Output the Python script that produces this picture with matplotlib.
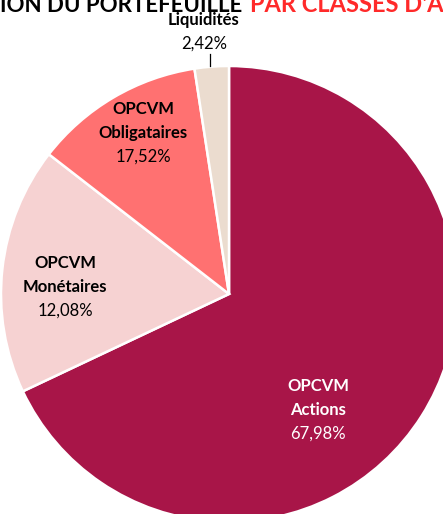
import matplotlib
matplotlib.use('Agg')
import matplotlib.pyplot as plt

plt.rcParams['font.family'] = ['Lato', 'DejaVu Sans']

# Portfolio allocation by asset class (%), slices in drawing order (clockwise from top).
# The source chart's labels for the two middle slices do not follow the slice sizes;
# the drawn slice sizes and the printed labels are both kept as they appear.
slice_values = [67.98, 17.52, 12.08, 2.42]
categories   = ['OPCVM\nActions', 'OPCVM\nMonétaires', 'OPCVM\nObligataires', 'Liquidités']
pct_labels   = ['67,98%', '12,08%', '17,52%', '2,42%']
colors       = ['#A81548', '#F6D2D2', '#FF7171', '#EBDCCF']

W, H = 443, 514
fig = plt.figure(figsize=(W / 100, H / 100), dpi=100)
ax = fig.add_axes([0, 0, 1, 1])

# pixel-like coordinates, y pointing down
cx, cy, r = 229, 294, 228
ax.pie(slice_values, colors=colors, center=(cx, cy), radius=r,
       startangle=-90, counterclock=True,
       wedgeprops=dict(edgecolor='white', linewidth=1.8))
ax.set_xlim(0, W)
ax.set_ylim(H, 0)
ax.set_aspect('equal')
ax.axis('off')

# title (cropped in the original)
ax.text(242, 12, 'REPARTITION DU PORTEFEUILLE', ha='right', va='baseline',
        fontsize=16, fontweight='bold', color='black')
ax.text(250, 12, "PAR CLASSES D'ACTIFS", ha='left', va='baseline',
        fontsize=17, fontweight='bold', color='#FF2A2A')

# slice labels: (x centre, baseline of first line, text colour)
label_pos = [(318, 391, 'white'), (65, 268, 'black'), (143, 114, 'black'), (204, 25, 'black')]
fs = 12
step = 24
for cat, pct, (x, y, c) in zip(categories, pct_labels, label_pos):
    lines = cat.split('\n')
    for i, line in enumerate(lines):
        ax.text(x, y + i * step, line, ha='center', va='baseline',
                fontsize=fs, fontweight='bold', color=c)
    ax.text(x, y + len(lines) * step, pct, ha='center', va='baseline',
            fontsize=fs, color=c)

# leader line for the small slice
ax.plot([210, 210], [54, 66], color='black', lw=0.9)

fig.savefig('out.png', dpi=100)
